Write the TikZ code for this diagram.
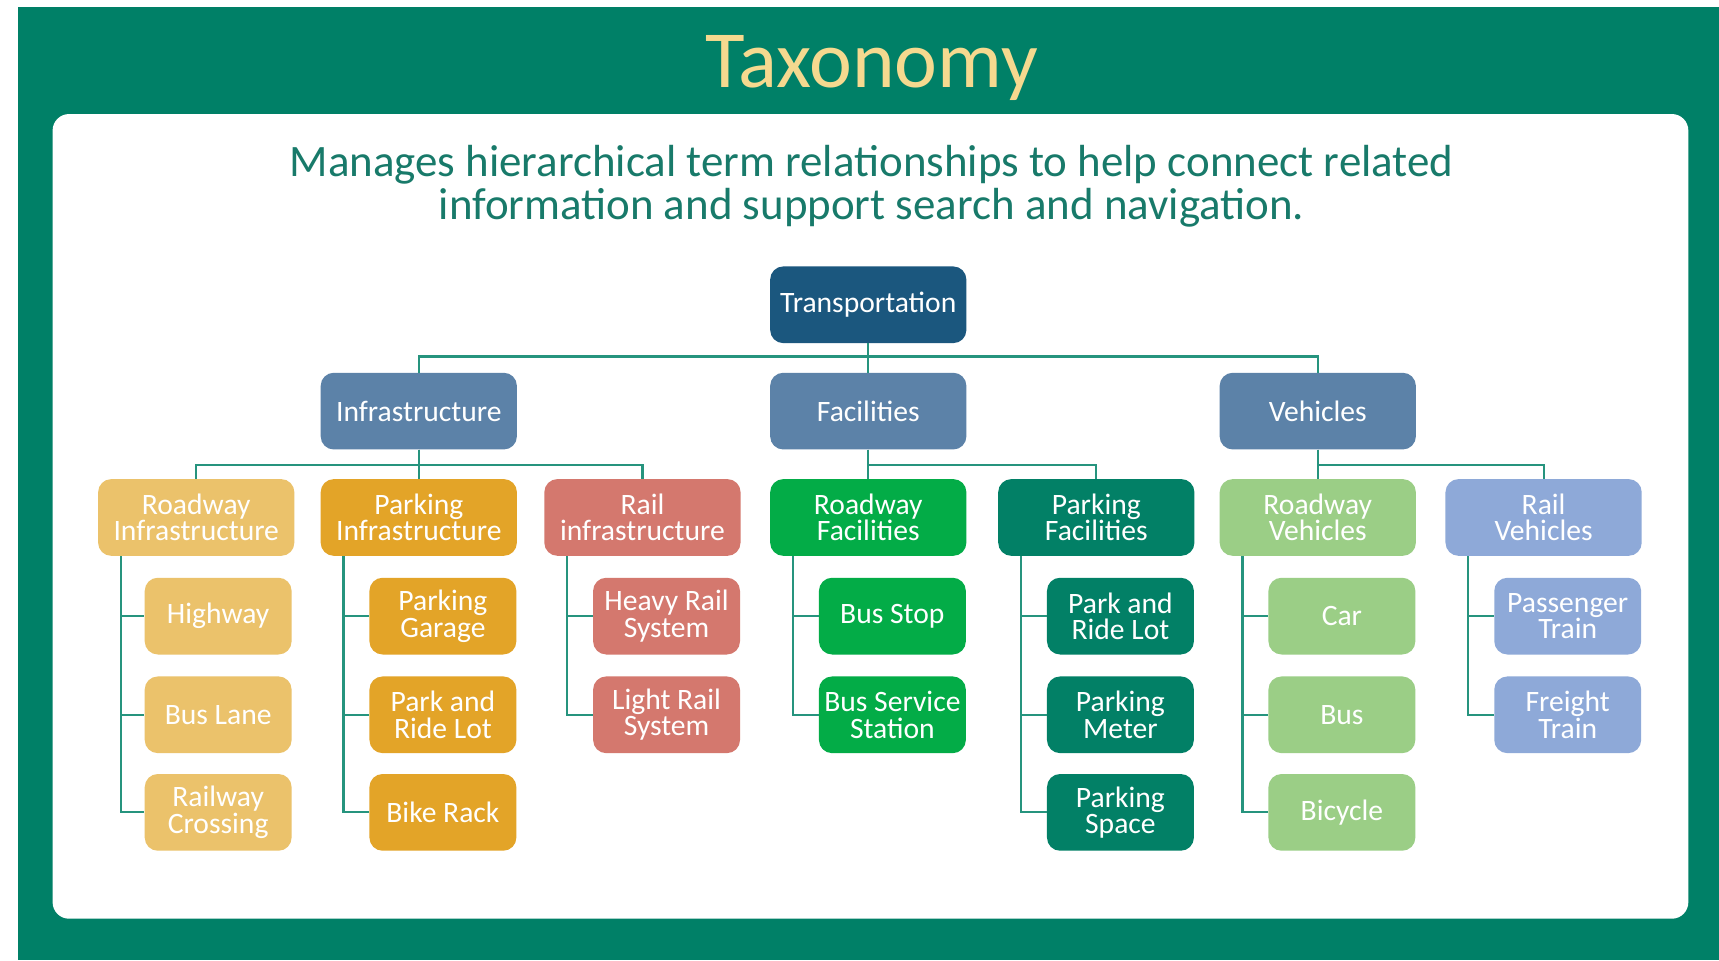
\documentclass[tikz,border=0pt]{standalone}
\usepackage{fontspec}
\setmainfont{Carlito}
\definecolor{bggreen}{RGB}{0,128,103}
\definecolor{titlegold}{RGB}{245,217,143}
\definecolor{subteal}{RGB}{24,122,106}
\definecolor{linkteal}{RGB}{38,148,126}
\definecolor{rootblue}{RGB}{27,87,126}
\definecolor{midblue}{RGB}{92,130,168}
\definecolor{roadyellow}{RGB}{235,194,107}
\definecolor{parkorange}{RGB}{227,164,40}
\definecolor{railred}{RGB}{212,120,110}
\definecolor{facgreen}{RGB}{3,172,71}
\definecolor{facdark}{RGB}{2,128,102}
\definecolor{vehgreen}{RGB}{155,206,134}
\definecolor{vehblue}{RGB}{142,169,216}

\begin{document}
\begin{tikzpicture}[x=1pt, y=-1pt,
  box/.style={rounded corners=12pt, minimum width=179pt, minimum height=70pt,
    inner sep=2pt, align=center, text=white, font=\fontsize{27}{24}\selectfont},
  leaf/.style={box, minimum width=134pt},
  link/.style={draw=linkteal, line width=2pt}]

  \useasboundingbox (0,0) rectangle (1568,876);
  \fill[white] (0,0) rectangle (1568,876);
  \fill[bggreen] (16,6) rectangle (1568,876);
  \fill[white, rounded corners=15pt] (48,104) rectangle (1540,838);

  \node[text=titlegold, font=\fontsize{74}{78}\selectfont] (title) at (795,62) {Taxonomy};
  \node[text=subteal, align=center, font=\fontsize{41}{39}\selectfont] (sub) at (795,170)
    {Manages hierarchical term relationships to help connect related\\information and support search and navigation.};

  % top levels
  \node[box, fill=rootblue] (trans) at (792,278) {Transportation};
  \node[box, fill=midblue] (infra) at (382,375) {Infrastructure};
  \node[box, fill=midblue] (fac) at (792,375) {Facilities};
  \node[box, fill=midblue] (veh) at (1202,375) {Vehicles};

  \node[box, fill=roadyellow] (rinf) at (179,472) {Roadway\\Infrastructure};
  \node[box, fill=parkorange] (pinf) at (382,472) {Parking\\Infrastructure};
  \node[box, fill=railred] (railinf) at (586,472) {Rail\\infrastructure};
  \node[box, fill=facgreen] (rfac) at (792,472) {Roadway\\Facilities};
  \node[box, fill=facdark] (pfac) at (1000,472) {Parking\\Facilities};
  \node[box, fill=vehgreen] (rveh) at (1202,472) {Roadway\\Vehicles};
  \node[box, fill=vehblue] (railveh) at (1408,472) {Rail\\Vehicles};

  % leaves
  \node[leaf, fill=roadyellow] (hwy) at (199,562) {Highway};
  \node[leaf, fill=roadyellow] (buslane) at (199,652) {Bus Lane};
  \node[leaf, fill=roadyellow] (xing) at (199,741) {Railway\\Crossing};

  \node[leaf, fill=parkorange] (garage) at (404,562) {Parking\\Garage};
  \node[leaf, fill=parkorange] (prlot) at (404,652) {Park and\\Ride Lot};
  \node[leaf, fill=parkorange] (bike) at (404,741) {Bike Rack};

  \node[leaf, fill=railred] (heavy) at (608,562) {Heavy Rail\\System};
  \node[leaf, fill=railred] (light) at (608,652) {Light Rail\\System};

  \node[leaf, fill=facgreen] (stop) at (814,562) {Bus Stop};
  \node[leaf, fill=facgreen] (station) at (814,652) {Bus Service\\Station};

  \node[leaf, fill=facdark] (prlot2) at (1022,562) {Park and\\Ride Lot};
  \node[leaf, fill=facdark] (meter) at (1022,652) {Parking\\Meter};
  \node[leaf, fill=facdark] (space) at (1022,741) {Parking\\Space};

  \node[leaf, fill=vehgreen] (car) at (1224,562) {Car};
  \node[leaf, fill=vehgreen] (bus) at (1224,652) {Bus};
  \node[leaf, fill=vehgreen] (bicycle) at (1224,741) {Bicycle};

  \node[leaf, fill=vehblue] (passenger) at (1430,562) {Passenger\\Train};
  \node[leaf, fill=vehblue] (freight) at (1430,652) {Freight\\Train};

  % connectors
  \draw[link] (trans.south) -- ++(0,12) -| (infra.north);
  \draw[link] (trans.south) -- ++(0,12) -| (veh.north);
  \draw[link] (trans) -- (fac);

  \draw[link] (infra.south) -- ++(0,14) -| (rinf.north);
  \draw[link] (infra.south) -- ++(0,14) -| (railinf.north);
  \draw[link] (infra) -- (pinf);
  \draw[link] (fac.south) -- ++(0,14) -| (pfac.north);
  \draw[link] (fac) -- (rfac);
  \draw[link] (veh.south) -- ++(0,14) -| (railveh.north);
  \draw[link] (veh) -- (rveh);

  \foreach \p/\c in {rinf/hwy, rinf/buslane, rinf/xing, pinf/garage, pinf/prlot, pinf/bike,
      railinf/heavy, railinf/light, rfac/stop, rfac/station, pfac/prlot2, pfac/meter, pfac/space,
      rveh/car, rveh/bus, rveh/bicycle, railveh/passenger, railveh/freight}
    \draw[link] ([xshift=21pt]\p.south west) |- (\c.west);
\end{tikzpicture}
\end{document}
